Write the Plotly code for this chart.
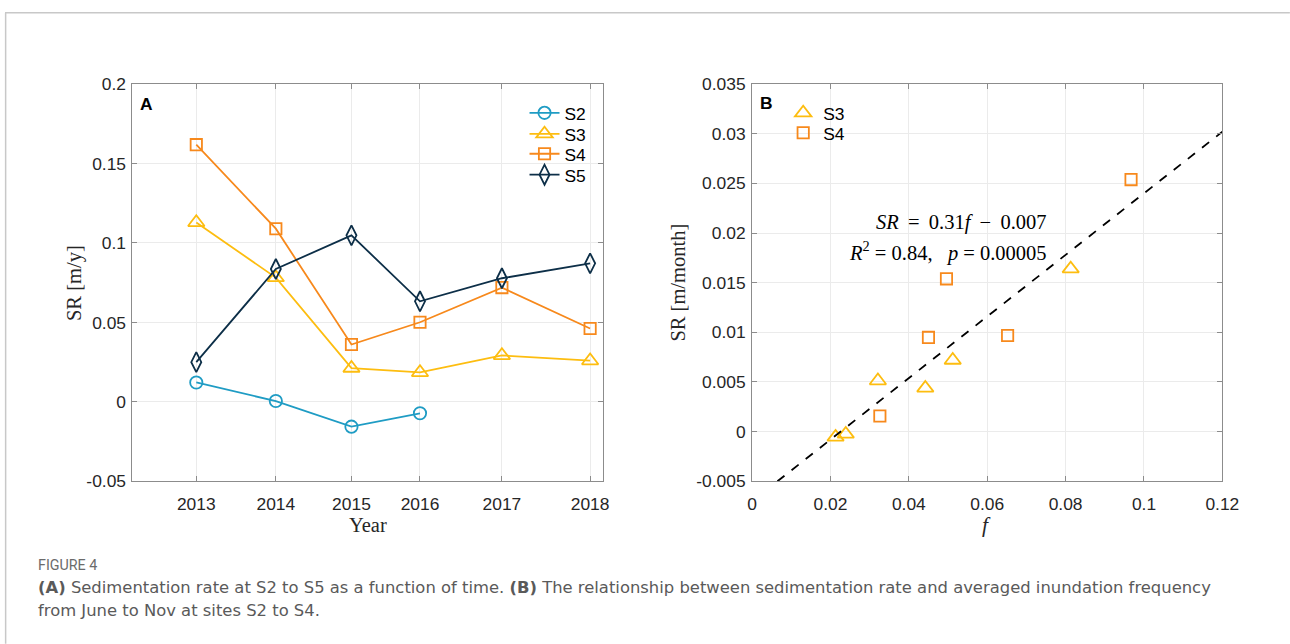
import plotly.graph_objects as go

# ---- Panel A: sedimentation rate per survey ----
survey_time = [2013.0, 2014.01, 2014.97, 2015.84, 2016.88, 2018.0]
year_labels = ["2013", "2014", "2015", "2016", "2017", "2018"]

sr_s2 = [0.0122, 0.0005, -0.0156, -0.0072]
sr_s3 = [0.1129, 0.0782, 0.0212, 0.0185, 0.0292, 0.0259]
sr_s4 = [0.1619, 0.1090, 0.0361, 0.0501, 0.0719, 0.0462]
sr_s5 = [0.0250, 0.0836, 0.1048, 0.0633, 0.0778, 0.0872]

# ---- Panel B: SR vs inundation frequency ----
f_s3 = [0.0213, 0.0239, 0.0321, 0.0442, 0.0512, 0.0813]
sr_b_s3 = [-0.00054, -0.00024, 0.00513, 0.00439, 0.0072, 0.0164]
f_s4 = [0.0326, 0.0450, 0.0496, 0.0652, 0.0967]
sr_b_s4 = [0.00157, 0.00949, 0.01539, 0.00969, 0.02538]

fit_slope = 0.31
fit_intercept = -0.007
fit_f = [(-0.005 - fit_intercept) / fit_slope, 0.12]
fit_sr = [fit_slope * v + fit_intercept for v in fit_f]

C_S2 = "#1f9cc4"
C_S3 = "#fdbd10"
C_S4 = "#f7891c"
C_S5 = "#0d2f48"

SANS = "Liberation Sans, Arial, sans-serif"
SERIF = "Liberation Serif, Times New Roman, serif"
CAPTION = "DejaVu Sans, sans-serif"
TICK_COLOR = "#262626"

# layout grid: positions below are given on a 1290x644 canvas and mapped to the page
SX, SY = 0.9805, 0.971
BODY = 8
W = round(1290 / SX) - 2 * BODY
H = round(644 / SY) - 2 * BODY
K = 1 / ((SX + SY) / 2)  # size factor for fonts and markers

def px_x(p):
    return (p / SX - BODY) / W
def px_y(p):
    return 1 - (p / SY - BODY) / H
def fs(v):
    return round(v * K, 1)

fig = go.Figure()

series_a = [
    ("S2", sr_s2, C_S2, "circle-open", 12, "legend"),
    ("S3", sr_s3, C_S3, "triangle-up-open", 14, "legend2"),
    ("S4", sr_s4, C_S4, "square-open", 11, "legend3"),
    ("S5", sr_s5, C_S5, "diamond-tall-open", 14, "legend4"),
]
for name, vals, col, sym, size, leg in series_a:
    fig.add_trace(go.Scatter(
        x=survey_time[:len(vals)], y=vals, name=name, mode="lines+markers",
        line=dict(color=col, width=1.8),
        marker=dict(symbol=sym, size=fs(size), color=col, line=dict(width=1.8)),
        xaxis="x", yaxis="y", legend=leg))

fig.add_trace(go.Scatter(
    x=f_s3, y=sr_b_s3, name="S3", mode="markers",
    marker=dict(symbol="triangle-up-open", size=fs(14), color=C_S3, line=dict(width=1.8)),
    xaxis="x2", yaxis="y2", legend="legend5"))
fig.add_trace(go.Scatter(
    x=f_s4, y=sr_b_s4, name="S4", mode="markers",
    marker=dict(symbol="square-open", size=fs(11), color=C_S4, line=dict(width=1.8)),
    xaxis="x2", yaxis="y2", legend="legend6"))
fig.add_trace(go.Scatter(
    x=fit_f, y=fit_sr, mode="lines", showlegend=False,
    line=dict(color="black", width=1.8, dash="dash"),
    xaxis="x2", yaxis="y2"))

axis_common = dict(
    showline=True, linecolor="#8c8c8c", linewidth=1, mirror="ticks",
    ticks="inside", ticklen=5, tickcolor="#8c8c8c",
    showgrid=True, gridcolor="#ebebeb", gridwidth=1, zeroline=False,
    tickfont=dict(family=SANS, size=fs(17), color=TICK_COLOR),
)

def legend_at(x, y):
    return dict(
        x=px_x(x), y=px_y(y), xanchor="left", yanchor="middle",
        bgcolor="rgba(0,0,0,0)", borderwidth=0, tracegroupgap=0,
        font=dict(family=SANS, size=fs(17), color="black"))

fig.update_layout(
    width=W, height=H,
    margin=dict(l=0, r=0, t=0, b=0),
    paper_bgcolor="white", plot_bgcolor="white",
    xaxis=dict(
        domain=[px_x(135), px_x(604)], range=[2012.19, 2018.16],
        tickvals=survey_time, ticktext=year_labels, anchor="y",
        ticklabelstandoff=7, **axis_common),
    yaxis=dict(
        domain=[px_y(480), px_y(82)], range=[-0.05, 0.2], anchor="x",
        tickvals=[-0.05, 0, 0.05, 0.1, 0.15, 0.2],
        ticktext=["-0.05", "0", "0.05", "0.1", "0.15", "0.2"],
        ticklabelstandoff=2, **axis_common),
    xaxis2=dict(
        domain=[px_x(753), px_x(1222)], range=[0, 0.12], anchor="y2",
        tickvals=[0, 0.02, 0.04, 0.06, 0.08, 0.1, 0.12],
        ticktext=["0", "0.02", "0.04", "0.06", "0.08", "0.1", "0.12"],
        ticklabelstandoff=7, **axis_common),
    yaxis2=dict(
        domain=[px_y(480), px_y(82)], range=[-0.005, 0.035], anchor="x2",
        tickvals=[-0.005, 0, 0.005, 0.01, 0.015, 0.02, 0.025, 0.03, 0.035],
        ticktext=["-0.005", "0", "0.005", "0.01", "0.015", "0.02", "0.025", "0.03", "0.035"],
        ticklabelstandoff=2, **axis_common),
    legend=legend_at(526, 111),
    legend2=legend_at(526, 132),
    legend3=legend_at(526, 152),
    legend4=legend_at(526, 173),
    legend5=legend_at(784, 111),
    legend6=legend_at(784, 131),
    showlegend=True,
)

annotations = [
    dict(text="<b>A</b>", x=px_x(140), y=px_y(102), xanchor="left", yanchor="middle",
         font=dict(family=SANS, size=fs(17), color="black")),
    dict(text="<b>B</b>", x=px_x(759), y=px_y(101), xanchor="left", yanchor="middle",
         font=dict(family=SANS, size=fs(17), color="black")),
    # axis titles
    dict(text="SR [m/y]", x=px_x(77), y=px_y(281), xanchor="center", yanchor="middle",
         textangle=-90, font=dict(family=SERIF, size=fs(20), color=TICK_COLOR)),
    dict(text="Year", x=px_x(370), y=px_y(524), xanchor="center", yanchor="middle",
         font=dict(family=SERIF, size=fs(20), color=TICK_COLOR)),
    dict(text="SR [m/month]", x=px_x(679), y=px_y(281), xanchor="center", yanchor="middle",
         textangle=-90, font=dict(family=SERIF, size=fs(20), color=TICK_COLOR)),
    dict(text="<i>f</i>", x=px_x(987), y=px_y(524), xanchor="center", yanchor="middle",
         font=dict(family=SERIF, size=fs(21), color=TICK_COLOR)),
    # regression statistics
    dict(text="<i>SR</i>\u2009 =\u2009 0.31<i>f</i>\u2009 −\u2009 0.007", x=px_x(1049), y=px_y(221),
         xanchor="right", yanchor="middle",
         font=dict(family=SERIF, size=fs(20), color="black")),
    dict(text="<i>R</i><sup>2</sup> = 0.84,\u2002 <i>p</i> = 0.00005", x=px_x(1049), y=px_y(250),
         xanchor="right", yanchor="middle",
         font=dict(family=SERIF, size=fs(20), color="black")),
    # caption
    dict(text="FIGURE 4", x=px_x(39), y=px_y(564), xanchor="left", yanchor="middle",
         font=dict(family="Roboto, sans-serif", size=fs(14), color="#6b6b6b")),
    dict(text="<b>(A)</b> Sedimentation rate at S2 to S5 as a function of time. <b>(B)</b> The relationship "
              "between sedimentation rate and averaged inundation frequency",
         x=px_x(39), y=px_y(586), xanchor="left", yanchor="middle",
         font=dict(family=CAPTION, size=fs(16), color="#5a5a5a")),
    dict(text="from June to Nov at sites S2 to S4.",
         x=px_x(39), y=px_y(609), xanchor="left", yanchor="middle",
         font=dict(family=CAPTION, size=fs(16), color="#5a5a5a")),
]
for a in annotations:
    a.update(xref="paper", yref="paper", showarrow=False)
fig.update_layout(annotations=annotations)

# outer frame of the figure panel (top and left edges)
frame = dict(color="#c8c8c8", width=1.5)
fig.add_shape(type="line", xref="paper", yref="paper",
              x0=0, x1=1 + 7 / W, y0=px_y(10.5), y1=px_y(10.5), line=frame, layer="below")
fig.add_shape(type="line", xref="paper", yref="paper",
              x0=0.0005, x1=0.0005, y0=-7 / H, y1=px_y(10.5), line=frame, layer="below")

fig.write_html("out.html")
